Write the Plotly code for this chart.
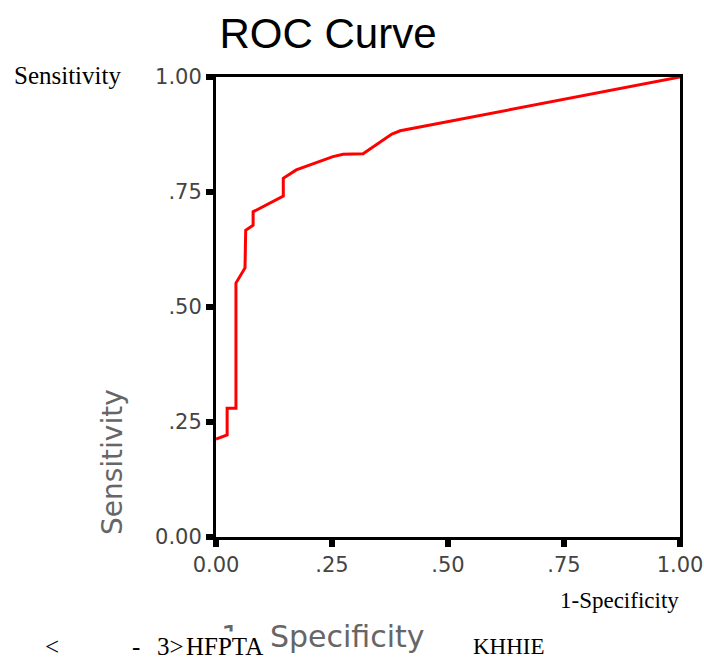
import plotly.graph_objects as go

# ROC curve data
fpr = [0.0, 0.024, 0.024, 0.043, 0.043, 0.0625, 0.064, 0.08, 0.08, 0.145, 0.145,
       0.173, 0.252, 0.274, 0.317, 0.379, 0.397, 0.504, 1.0]
tpr = [0.213, 0.222, 0.28, 0.28, 0.552, 0.585, 0.667, 0.678, 0.707, 0.741, 0.780,
       0.798, 0.827, 0.832, 0.833, 0.876, 0.883, 0.904, 1.0]

tick_vals = [0, 0.25, 0.5, 0.75, 1.0]
tick_text = ["0.00", ".25", ".50", ".75", "1.00"]

W, H = 704, 660
# plot area in page coordinates: x 216..680, y 77..537
L, R, T, B = 216, W - 680, 77, H - 537
pw, ph = W - L - R, H - T - B


def px(x):  # page px -> paper
    return (x - L) / pw


def py(y):
    return (H - B - y) / ph


fig = go.Figure()
fig.add_trace(go.Scatter(x=fpr, y=tpr, mode="lines",
                         line=dict(color="#ff0000", width=3),
                         showlegend=False, hoverinfo="skip", cliponaxis=False))

axis_common = dict(
    range=[0, 1], tickvals=tick_vals, ticktext=tick_text,
    ticks="outside", ticklen=7, tickwidth=6, tickcolor="black",
    showline=True, linewidth=3, linecolor="black", mirror=True,
    showgrid=False, zeroline=False, automargin=False,
    tickfont=dict(family="DejaVu Sans", size=21, color="#444"),
)
fig.update_xaxes(**axis_common)
fig.update_yaxes(**axis_common)

serif = "Liberation Serif"
ann = []


def add(text, x, y, xanchor="center", size=24, family=serif, color="black",
        angle=0, bg=None):
    d = dict(x=px(x), y=py(y), xref="paper", yref="paper", text=text,
             showarrow=False, xanchor=xanchor, yanchor="middle",
             textangle=angle, font=dict(family=family, size=size, color=color))
    if bg:
        d["bgcolor"] = bg
    ann.append(d)


add("Sensitivity", 67, 75, size=25)
add("1-Specificity", 619, 600, size=23)
add("Sensitivity", 112, 462, size=28, family="DejaVu Sans", color="#666", angle=-90)
add("1 - Specificity", 219, 636, xanchor="left", size=30,
    family="DejaVu Sans", color="#666")
for txt, x0, sz, bg in [("<", 43, 25, None), ("-", 130, 25, None), ("3>", 155, 25, None),
                        ("HFPTA", 184, 25, "white"), ("KHHIE", 471, 23, None)]:
    add(txt, x0, 646, xanchor="left", size=sz, bg=bg)

fig.update_layout(
    width=W, height=H,
    margin=dict(l=L, r=R, t=T, b=B, autoexpand=False),
    paper_bgcolor="white", plot_bgcolor="white",
    title=dict(text="ROC Curve", x=328 / W, y=1 - 33 / H,
               xanchor="center", yanchor="middle",
               font=dict(family="Liberation Sans", size=42, color="black")),
    annotations=ann,
)

fig.write_html("out.html",
               config={"displayModeBar": False},
               post_script="document.body.style.margin='0';"
                           "document.body.style.overflow='hidden';")
